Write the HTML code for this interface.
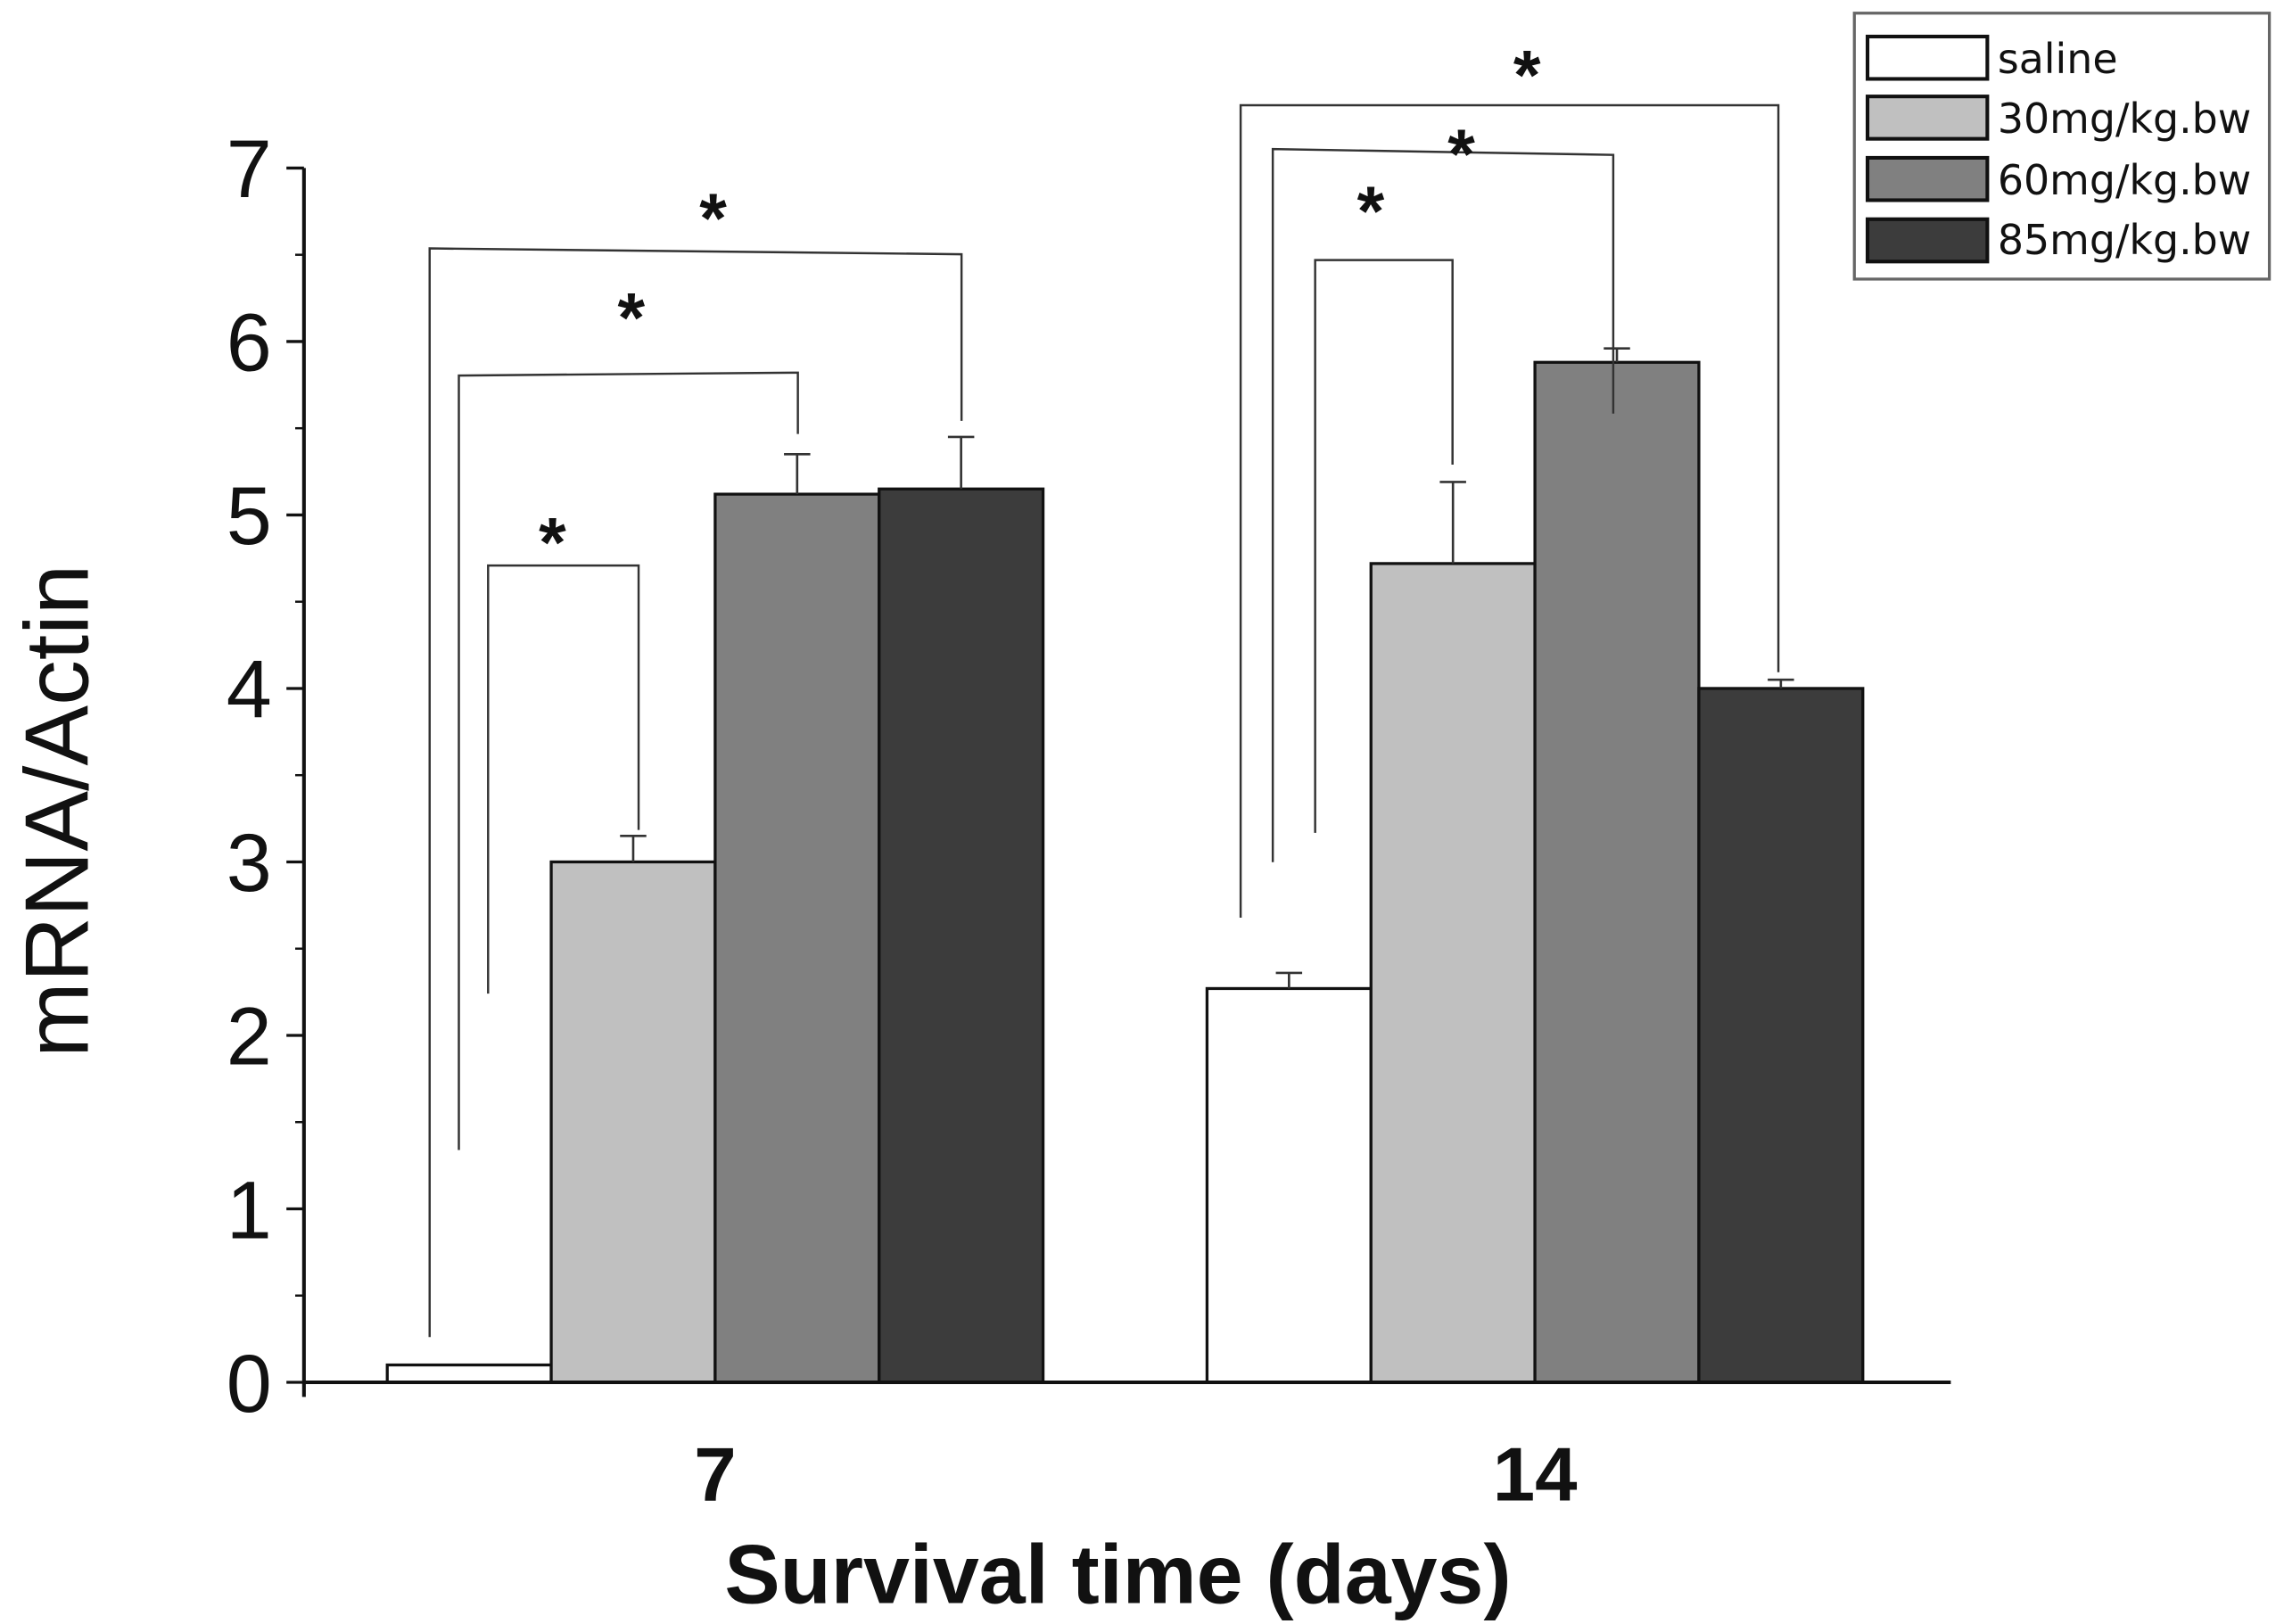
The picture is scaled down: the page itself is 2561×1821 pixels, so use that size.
<!DOCTYPE html>
<html><head><meta charset="utf-8"><style>html,body{margin:0;padding:0;background:#fff}svg{display:block}</style></head>
<body>
<svg xmlns="http://www.w3.org/2000/svg" width="2561" height="1821" viewBox="0 0 1563 1111.4" id="chart">
<rect width="1563" height="1111.4" fill="#fff"/>
</svg>
<script>
const groups = ["7", "14"];
const series = ["saline", "30mg/kg.bw", "60mg/kg.bw", "85mg/kg.bw"];
const saline = [0.1, 2.27];
const dose30 = [3.0, 4.72];
const dose60 = [5.12, 5.88];
const dose85 = [5.15, 4.0];
const err30 = [0.15, 0.47];
const err60 = [0.23, 0.08];
const err85 = [0.3, 0.05];
const errSaline = [0, 0.09];
const yTicks = [0, 1, 2, 3, 4, 5, 6, 7];

const svg = document.getElementById('chart');
const NS = 'http://www.w3.org/2000/svg';
const fills = ['#ffffff', '#c0c0c0', '#808080', '#3c3c3c'];
const vals = [saline, dose30, dose60, dose85];
const errs = [errSaline, err30, err60, err85];
const y0 = 946, y7 = 115;
function yScale(v){ return y0 - v * (y0 - y7) / 7; }
const groupStart = [265, 826], barW = 112.2;
function xBar(g, s){ return groupStart[g] + s * barW; }
function mk(tag, attrs, parent){
  const e = document.createElementNS(NS, tag);
  for (const k in attrs) e.setAttribute(k, attrs[k]);
  (parent || svg).appendChild(e);
  return e;
}
for (let g = 0; g < groups.length; g++){
  for (let s = 0; s < series.length; s++){
    const v = vals[s][g];
    const x = xBar(g, s), y = yScale(v);
    const r = mk('rect', {x: x, y: y, width: barW, height: y0 - y, fill: fills[s], stroke: '#111', 'stroke-width': 2});
    
    
    const e = errs[s][g];
    if (e > 0){
      const cx = x + barW/2, ye = yScale(v + e);
      const l = mk('path', {d: `M${cx},${y} V${ye} M${cx-9},${ye} H${cx+9}`, stroke: '#333', 'stroke-width': 1.6, fill: 'none'});
      
      
    }
  }
}
const ax = mk('path', {d: `M208,${y7} V956 M208,${y0} H1335`, stroke: '#111', 'stroke-width': 2.5, fill: 'none'});


yTicks.forEach(t => {
  const y = yScale(t);
  const tk = mk('line', {x1: 196, x2: 208, y1: y, y2: y, stroke: '#111', 'stroke-width': 2});
  
  
  if (t < 7){
    const ym = yScale(t + 0.5);
    const mt = mk('line', {x1: 202, x2: 208, y1: ym, y2: ym, stroke: '#111', 'stroke-width': 1.5});
    
    
  }
  const lb = mk('text', {x: 186, y: y + 20, 'text-anchor': 'end', 'font-family': 'Liberation Sans, Arial, sans-serif', 'font-size': 56, fill: '#111'});
  lb.textContent = t;
  
  
});
groups.forEach((g, i) => {
  const cx = xBar(i, 2);
  const t = mk('text', {x: cx, y: 1027, 'text-anchor': 'middle', 'font-family': 'Liberation Sans, Arial, sans-serif', 'font-weight': 'bold', 'font-size': 52, fill: '#111'});
  t.textContent = g;
  
  
});
</script>
<svg style="position:absolute;left:0;top:0" width="2561" height="1821" viewBox="0 0 1563 1111.4">
<text x="765" y="1097" text-anchor="middle" font-family="Liberation Sans, Arial, sans-serif" font-weight="bold" font-size="57" fill="#111">Survival time (days)</text>
<text transform="translate(60,555) rotate(-90)" text-anchor="middle" font-family="Liberation Sans, Arial, sans-serif" font-size="62" fill="#111">mRNA/Actin</text>
<g stroke="#333" stroke-width="1.5" fill="none">
<path d="M294,915 V170 L658,174 V288"/>
<path d="M314,787 V257 L546,255 V297"/>
<path d="M334,680 V387 H437 V568"/>
<path d="M849,628 V72 H1217 V460"/>
<path d="M871,590 V102 L1104,106 V283"/>
<path d="M900,570 V178 H994 V318"/>
</g>
<g font-family="Liberation Sans, Arial, sans-serif" font-weight="bold" font-size="48" fill="#111" text-anchor="middle">
<text x="488" y="166">*</text><text x="432" y="234">*</text><text x="378" y="388">*</text>
<text x="1045" y="68">*</text><text x="1000" y="122">*</text><text x="938" y="161">*</text>
</g>
<g>
<rect x="1269" y="9" width="284" height="182" fill="#fff" stroke="#666" stroke-width="2"/>
<g stroke="#111" stroke-width="2.5">
<rect x="1278" y="25" width="82" height="29" fill="#fff"/>
<rect x="1278" y="66" width="82" height="29" fill="#c0c0c0"/>
<rect x="1278" y="108" width="82" height="29" fill="#808080"/>
<rect x="1278" y="150" width="82" height="29" fill="#3c3c3c"/>
</g>
<g font-family="DejaVu Sans, Liberation Sans, sans-serif" font-size="28" fill="#111">
<text x="1367" y="50">saline</text>
<text x="1367" y="91">30mg/kg.bw</text>
<text x="1367" y="133">60mg/kg.bw</text>
<text x="1367" y="174">85mg/kg.bw</text>
</g>
</g>
</svg>
</body></html>
